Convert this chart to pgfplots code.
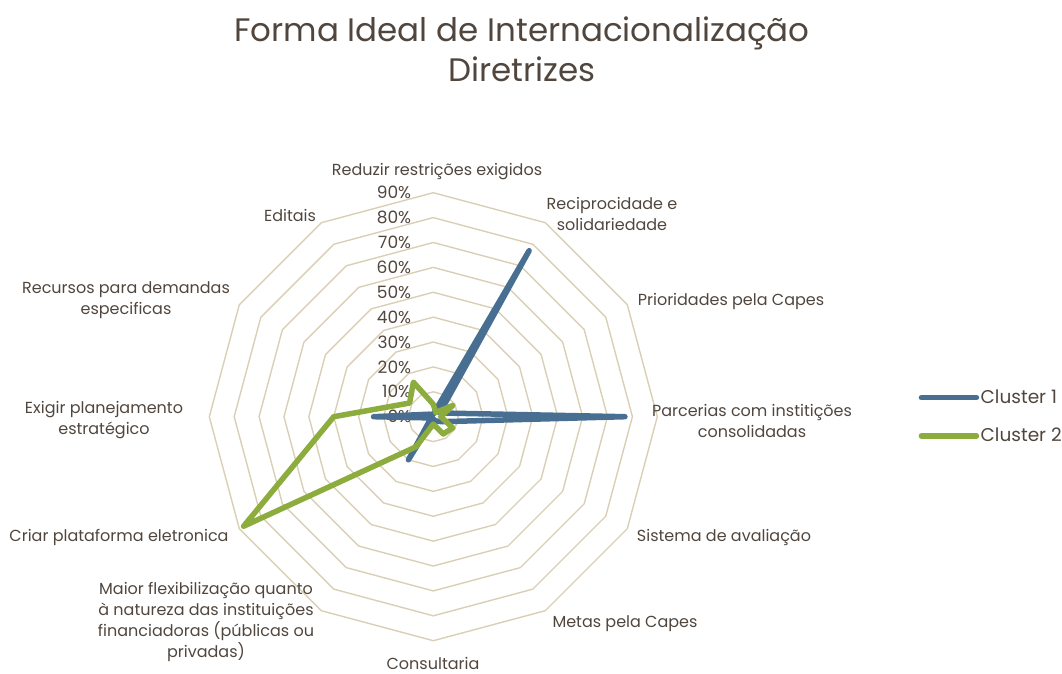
\documentclass[border=0pt]{standalone}
\usepackage{fontspec}
\setmainfont{Poppins}
\usepackage{pgfplots}
\usepgfplotslibrary{polar}
\pgfplotsset{compat=1.18}
\definecolor{ringc}{RGB}{218,207,180}
\definecolor{blu}{RGB}{72,111,146}
\definecolor{grn}{RGB}{141,172,62}
\definecolor{txt}{RGB}{80,70,62}

\begin{document}
\begin{tikzpicture}[x=1pt,y=1pt]
\path[use as bounding box] (0,0) rectangle (1062,673);

% title
\node[text=txt, align=center, font=\fontsize{32.5}{40}\selectfont] at (522,624)
  {Forma Ideal de Internacionalização\\Diretrizes};

\begin{polaraxis}[
  at={(433.3pt,256.3pt)}, anchor=center,
  scale only axis, width=448pt, height=448pt,
  xmin=0, xmax=360, ymin=0, ymax=90,
  axis line style={draw=none},
  xtick=\empty, ytick=\empty,
  clip=false,
  legend style={at={(1.583,0.5)}, anchor=west, draw=none, fill=none,
    font=\fontsize{18.5}{20}\selectfont, text=txt, row sep=20pt,
    inner sep=0pt, nodes={inner sep=1.5pt}},
  legend cell align=left,
  legend image code/.code={\draw[#1,line cap=round] (0pt,0pt) -- (55pt,0pt);},
]
% polygon grid
\pgfplotsinvokeforeach{10,20,...,90}{
  \addplot[ringc, line width=1.4pt, forget plot] coordinates
    {(90,#1) (60,#1) (30,#1) (0,#1) (330,#1) (300,#1) (270,#1)
     (240,#1) (210,#1) (180,#1) (150,#1) (120,#1) (90,#1)};
}
% radial scale labels
\pgfplotsinvokeforeach{0,10,...,90}{
  \node[anchor=east, text=txt, font=\fontsize{17}{18}\selectfont, inner sep=0pt]
    at (axis cs:90,#1) [xshift=-22pt] {#1\%};
}
% Cluster 1
\addplot[blu, line width=5.5pt, line join=round, line cap=round] coordinates {
  (90,1) (60,77) (30,3) (0,77) (330,4) (300,2) (270,1)
  (240,20) (210,1) (180,24) (150,2) (120,1) (90,1)
};
\addlegendentry{Cluster 1}
% Cluster 2
\addplot[grn, line width=5.5pt, line join=round, line cap=round] coordinates {
  (90,5) (60,2) (30,9) (0,3) (330,9) (300,8) (270,3)
  (240,14) (210,88) (180,40) (150,11) (120,16) (90,5)
};
\addlegendentry{Cluster 2}
\end{polaraxis}

% category labels
\begin{scope}[every node/.style={text=txt, align=center,
    font=\fontsize{16}{21}\selectfont, inner sep=0pt}]
\node at (437,501) {Reduzir restrições exigidos};
\node at (612,459) {Reciprocidade e\\solidariedade};
\node at (731,372) {Prioridades pela Capes};
\node at (752,252) {Parcerias com institições\\consolidadas};
\node at (724,136) {Sistema de avaliação};
\node at (625,49) {Metas pela Capes};
\node at (433,10) {Consultaria};
\node at (206,51) {Maior flexibilização quanto\\à natureza das instituições\\financiadoras (públicas ou\\privadas)};
\node at (119,136) {Criar plataforma eletronica};
\node at (104,253) {Exigir planejamento\\estratégico};
\node at (126,373) {Recursos para demandas\\especificas};
\node at (290,458) {Editais};
\end{scope}
\end{tikzpicture}
\end{document}
